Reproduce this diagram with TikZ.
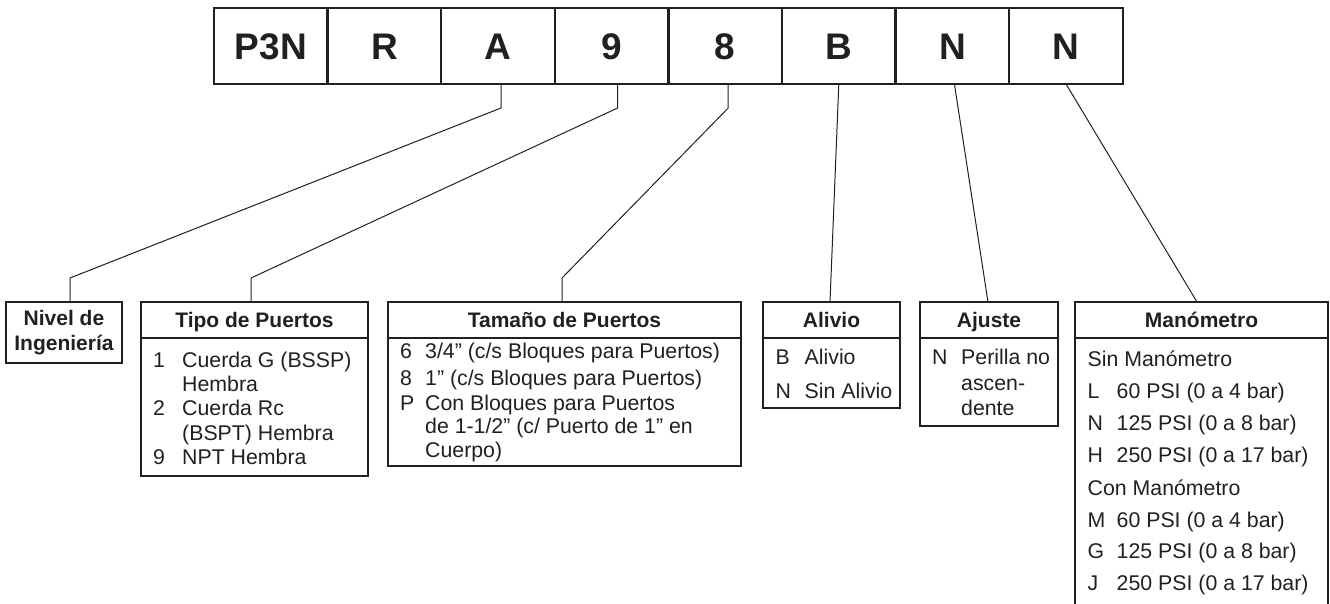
\documentclass[tikz,border=0pt]{standalone}
\usepackage{fontspec}
\setmainfont{Liberation Sans}
\usepackage{tikz}
\usetikzlibrary{shapes,arrows,positioning}
\definecolor{ink}{RGB}{35,31,32}
\newcommand{\codefont}{\fontsize{37}{40}\selectfont\bfseries}
\newcommand{\headfont}{\fontsize{21}{25}\selectfont\bfseries}
\newcommand{\bodyfont}{\fontsize{21.3}{25}\selectfont}
\newcommand{\itemkey}[2][29pt]{\makebox[#1][l]{#2}}
\tikzstyle{code} = [rectangle, draw=ink, line width=2.4pt, minimum width=113.6pt,
    minimum height=76pt, inner sep=0pt, outer sep=0pt, text height=26.5pt,
    text depth=0pt, font=\codefont, text=ink]
\tikzstyle{head} = [rectangle, draw=ink, line width=1.2pt, minimum height=36pt,
    inner sep=0pt, outer sep=0pt, text height=15.2pt, text depth=0pt,
    font=\headfont, text=ink, anchor=north west]
\tikzstyle{panel} = [rectangle, draw=ink, line width=1.2pt, inner sep=0pt,
    outer sep=0pt, anchor=north west]
\tikzstyle{item} = [anchor=base west, inner sep=0pt, font=\bodyfont, text=ink]
\tikzstyle{line} = [draw=ink, line width=1pt]
\begin{document}
\begin{tikzpicture}[x=1pt, y=-1pt, node distance=113.6pt]
    \useasboundingbox (0,0) rectangle (1330,603);
    % Place nodes
    \node [code] (cP3N) at (270.8,46) {P3N};
    \node [code, right of=cP3N] (cR) {R};
    \node [code, right of=cR] (cA) {A};
    \node [code, right of=cA] (c9) {9};
    \node [code, right of=c9] (c8) {8};
    \node [code, right of=c8] (cB) {B};
    \node [code, right of=cB] (cN) {N};
    \node [code, right of=cN] (cNN) {N};
    \node [panel, minimum width=116pt, minimum height=61pt, align=center,
        font=\headfont, text=ink] (nivel) at (6,302) {Nivel de\\Ingeniería};
    \node [head, minimum width=227pt] (tipo) at (141,302) {Tipo de Puertos};
    \node [panel, minimum width=227pt, minimum height=138pt] (tipobody) at (tipo.south west) {};
    \node [head, minimum width=353pt] (tam) at (388,302) {Tamaño de Puertos};
    \node [panel, minimum width=353pt, minimum height=128pt] (tambody) at (tam.south west) {};
    \node [head, minimum width=137pt] (alivio) at (763,302) {Alivio};
    \node [panel, minimum width=137pt, minimum height=70pt] (aliviobody) at (alivio.south west) {};
    \node [head, minimum width=138pt] (ajuste) at (920,302) {Ajuste};
    \node [panel, minimum width=138pt, minimum height=88pt] (ajustebody) at (ajuste.south west) {};
    \node [head, minimum width=253pt] (mano) at (1075,302) {Manómetro};
    \node [panel, minimum width=253pt, minimum height=330pt] (manobody) at (mano.south west) {};
    % Tipo de Puertos
    \node [item] (tipo1) at (153,367) {\itemkey{1}Cuerda G (BSSP)};
    \node [item] (tipo1b) at (153,391) {\itemkey{}Hembra};
    \node [item] (tipo2) at (153,415) {\itemkey{2}Cuerda Rc};
    \node [item] (tipo2b) at (153,440) {\itemkey{}(BSPT) Hembra};
    \node [item] (tipo9) at (153,464) {\itemkey{9}NPT Hembra};
    % Tamano de Puertos
    \node [item] (tam6) at (400,358) {\itemkey[25pt]{6}3/4” (c/s Bloques para Puertos)};
    \node [item] (tam8) at (400,385) {\itemkey[25pt]{8}1” (c/s Bloques para Puertos)};
    \node [item] (tamP) at (400,410) {\itemkey[25pt]{P}Con Bloques para Puertos};
    \node [item] (tamPb) at (400,433) {\itemkey[25pt]{}de 1-1/2” (c/ Puerto de 1" en};
    \node [item] (tamPc) at (400,457) {\itemkey[25pt]{}Cuerpo)};
    % Alivio
    \node [item] (aliB) at (775.5,364) {\itemkey{B}Alivio};
    \node [item] (aliN) at (775.5,398) {\itemkey{N}Sin Alivio};
    % Ajuste
    \node [item] (ajuN) at (932,364) {\itemkey{N}Perilla no};
    \node [item] (ajuNb) at (932,390) {\itemkey{}ascen-};
    \node [item] (ajuNc) at (932,415) {\itemkey{}dente};
    % Manometro
    \node [item] (manSin) at (1087.5,366) {Sin Manómetro};
    \node [item] (manL) at (1087.5,398) {\itemkey{L}60 PSI (0 a 4 bar)};
    \node [item] (manN) at (1087.5,430) {\itemkey{N}125 PSI (0 a 8 bar)};
    \node [item] (manH) at (1087.5,462) {\itemkey{H}250 PSI (0 a 17 bar)};
    \node [item] (manCon) at (1087.5,495) {Con Manómetro};
    \node [item] (manM) at (1087.5,527) {\itemkey{M}60 PSI (0 a 4 bar)};
    \node [item] (manG) at (1087.5,558) {\itemkey{G}125 PSI (0 a 8 bar)};
    \node [item] (manJ) at (1087.5,590) {\itemkey{J}250 PSI (0 a 17 bar)};
    % Draw edges
    \path [line] ([xshift=3pt]cA.south) -- ++(0,24)
        -- ([xshift=6pt,yshift=24pt]nivel.north) -- ([xshift=6pt]nivel.north);
    \path [line] ([xshift=6pt]c9.south) -- ++(0,24)
        -- ([xshift=-3.5pt,yshift=24pt]tipo.north) -- ([xshift=-3.5pt]tipo.north);
    \path [line] ([xshift=3pt]c8.south) -- ++(0,24)
        -- ([xshift=-2.5pt,yshift=24pt]tam.north) -- ([xshift=-2.5pt]tam.north);
    \path [line] (cB.south) -- ([xshift=-1.5pt]alivio.north);
    \path [line] ([xshift=2pt]cN.south) -- ([xshift=-1pt]ajuste.north);
    \path [line] (cNN.south) -- ([xshift=-4.5pt]mano.north);
\end{tikzpicture}
\end{document}
